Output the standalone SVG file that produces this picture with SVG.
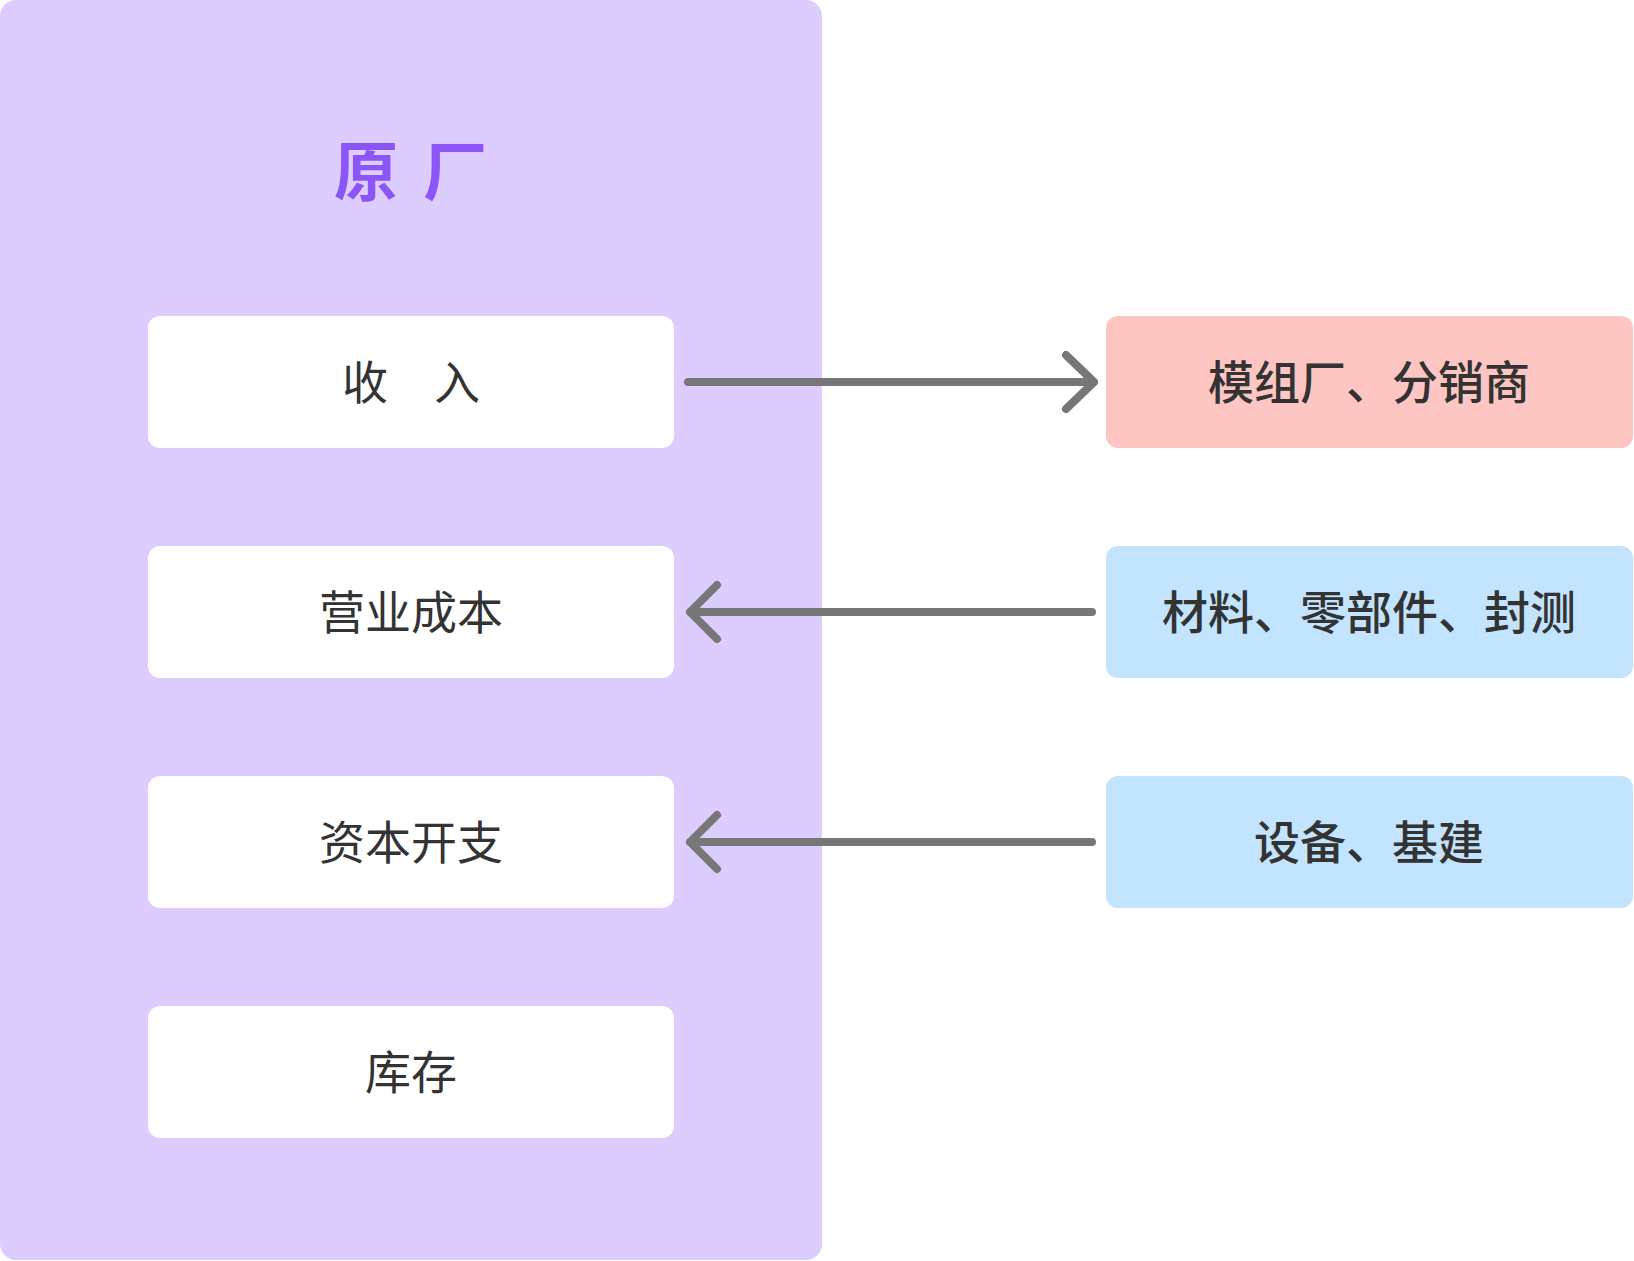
<svg xmlns="http://www.w3.org/2000/svg" width="1634" height="1261" viewBox="0 0 1634 1261">
<style>
.t{font-family:"Noto Sans CJK SC","Noto Sans",sans-serif;text-anchor:middle;dominant-baseline:central;fill:#333333}
.l{font-size:46px}
.r{font-size:46px;font-weight:500}
.ti{font-size:64px;font-weight:bold;fill:#8B55F7}
.box{fill:#ffffff}
.conn{stroke:#777777;stroke-width:8;stroke-linecap:round;stroke-linejoin:round;fill:none}
</style>
<rect width="1634" height="1261" fill="#ffffff"/>
<g id="panel">
<rect x="0" y="0" width="822" height="1260" rx="16" fill="#DDCCFE"/>
<text class="t ti" x="366" y="167">原</text>
<text class="t ti" x="455" y="167">厂</text>
</g>
<g id="income"><rect class="box" x="148" y="316" width="526" height="132" rx="12"/><text class="t l" x="411" y="379">收　入</text></g>
<g id="cost"><rect class="box" x="148" y="546" width="526" height="132" rx="12"/><text class="t l" x="411" y="609">营业成本</text></g>
<g id="capex"><rect class="box" x="148" y="776" width="526" height="132" rx="12"/><text class="t l" x="411" y="839">资本开支</text></g>
<g id="inventory"><rect class="box" x="148" y="1006" width="526" height="132" rx="12"/><text class="t l" x="411" y="1069">库存</text></g>
<g id="customers"><rect x="1106" y="316" width="527" height="132" rx="12" fill="#FEC6C3"/><text class="t r" x="1369" y="379">模组厂、分销商</text></g>
<g id="suppliers"><rect x="1106" y="546" width="527" height="132" rx="12" fill="#C2E4FE"/><text class="t r" x="1369" y="609">材料、零部件、封测</text></g>
<g id="equipment"><rect x="1106" y="776" width="527" height="132" rx="12" fill="#C2E4FE"/><text class="t r" x="1369" y="839">设备、基建</text></g>
<g id="connectors">
<path class="conn" d="M688 382 H1094 M1066 355 L1094 382 L1066 409"/>
<path class="conn" d="M1092 612 H690 M717 585 L690 612 L717 639"/>
<path class="conn" d="M1092 842 H690 M717 815 L690 842 L717 869"/>
</g>
</svg>
